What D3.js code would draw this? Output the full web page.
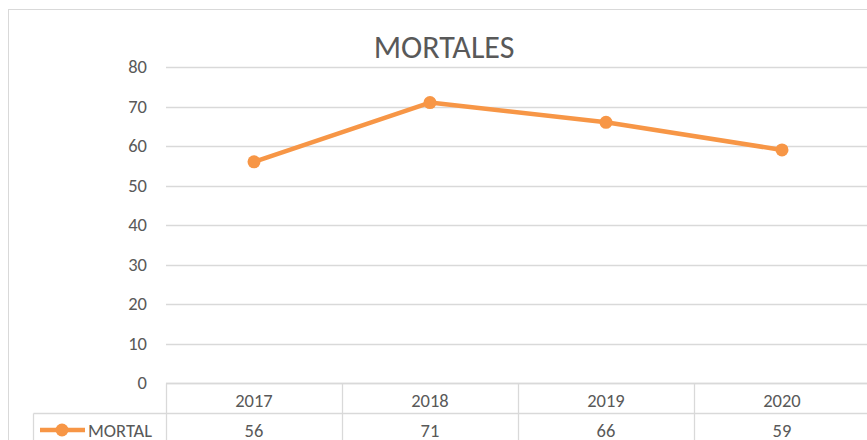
<!DOCTYPE html>
<html>
<head>
<meta charset="utf-8">
<script src="https://cdn.jsdelivr.net/npm/d3@7"></script>
<style>
  body { margin: 0; background: #fff; }
  text { font-family: Carlito, "Liberation Sans", "Noto Sans", sans-serif; fill: #595959; }
</style>
</head>
<body>
<div id="chart"></div>
<script>
const years = ["2017", "2018", "2019", "2020"];
const mortal = [56, 71, 66, 59];
const yTicks = [0, 10, 20, 30, 40, 50, 60, 70, 80];
const seriesName = "MORTAL";
const chartTitle = "MORTALES";

const W = 867, H = 440;
const ORANGE = "#f79646";
const GRID = "#d9d9d9";
const FS = "18.5px";

const svg = d3.select("#chart").append("svg")
  .attr("width", W).attr("height", H);

// chart border (runs off the right and bottom edges)
svg.append("rect")
  .attr("x", 8.5).attr("y", 9.5)
  .attr("width", 900).attr("height", 500)
  .attr("fill", "#fff").attr("stroke", GRID);

const x = d3.scaleBand().domain(years).range([166, 870]);
const y = d3.scaleLinear().domain([0, 80]).range([383, 67]);

// gridlines
svg.append("g").selectAll("line").data(yTicks).join("line")
  .attr("x1", 166).attr("x2", 870)
  .attr("y1", d => Math.round(y(d)) + 0.5).attr("y2", d => Math.round(y(d)) + 0.5)
  .attr("stroke", GRID).attr("stroke-width", 1.3);

// y tick labels
svg.append("g").selectAll("text").data(yTicks).join("text")
  .attr("x", 147).attr("y", d => y(d))
  .attr("dy", "0.35em").attr("text-anchor", "end")
  .style("font-size", FS)
  .text(d => d);

// title
svg.append("text")
  .attr("x", 444).attr("y", 58)
  .attr("text-anchor", "middle")
  .style("font-size", "32px")
  .text(chartTitle);

// line + markers
const line = d3.line().x(d => x(d.year) + x.bandwidth() / 2).y(d => y(d.v));
const pts = years.map((yr, i) => ({ year: yr, v: mortal[i] }));
svg.append("path").datum(pts)
  .attr("d", line).attr("fill", "none")
  .attr("stroke", ORANGE).attr("stroke-width", 4.5)
  .attr("stroke-linejoin", "round");
svg.append("g").selectAll("circle").data(pts).join("circle")
  .attr("cx", d => x(d.year) + x.bandwidth() / 2).attr("cy", d => y(d.v))
  .attr("r", 6.5).attr("fill", ORANGE);

// data table
const tbl = svg.append("g").attr("stroke", GRID).attr("stroke-width", 1.3);
const rowTop = 383.5, rowMid = 413.5;
tbl.append("line").attr("x1", 166).attr("x2", 870).attr("y1", rowTop).attr("y2", rowTop);
tbl.append("line").attr("x1", 33.5).attr("x2", 870).attr("y1", rowMid).attr("y2", rowMid);
tbl.selectAll("line.v").data(years.concat(["end"])).join("line")
  .attr("class", "v")
  .attr("x1", (d, i) => Math.round(166 + i * x.bandwidth()) + 0.5)
  .attr("x2", (d, i) => Math.round(166 + i * x.bandwidth()) + 0.5)
  .attr("y1", rowTop).attr("y2", H);
tbl.append("line").attr("x1", 33.5).attr("x2", 33.5).attr("y1", rowMid).attr("y2", H);

svg.append("g").selectAll("text").data(years).join("text")
  .attr("x", d => x(d) + x.bandwidth() / 2).attr("y", 401)
  .attr("dy", "0.35em").attr("text-anchor", "middle")
  .style("font-size", FS).text(d => d);

svg.append("g").selectAll("text").data(mortal).join("text")
  .attr("x", (d, i) => x(years[i]) + x.bandwidth() / 2).attr("y", 431)
  .attr("dy", "0.35em").attr("text-anchor", "middle")
  .style("font-size", FS).text(d => d);

// legend key in table
svg.append("line").attr("x1", 40).attr("x2", 85).attr("y1", 430).attr("y2", 430)
  .attr("stroke", ORANGE).attr("stroke-width", 4.5);
svg.append("circle").attr("cx", 62).attr("cy", 430).attr("r", 6.5).attr("fill", ORANGE);
svg.append("text").attr("x", 88).attr("y", 431)
  .attr("dy", "0.35em").style("font-size", FS).text(seriesName);
</script>
</body>
</html>
